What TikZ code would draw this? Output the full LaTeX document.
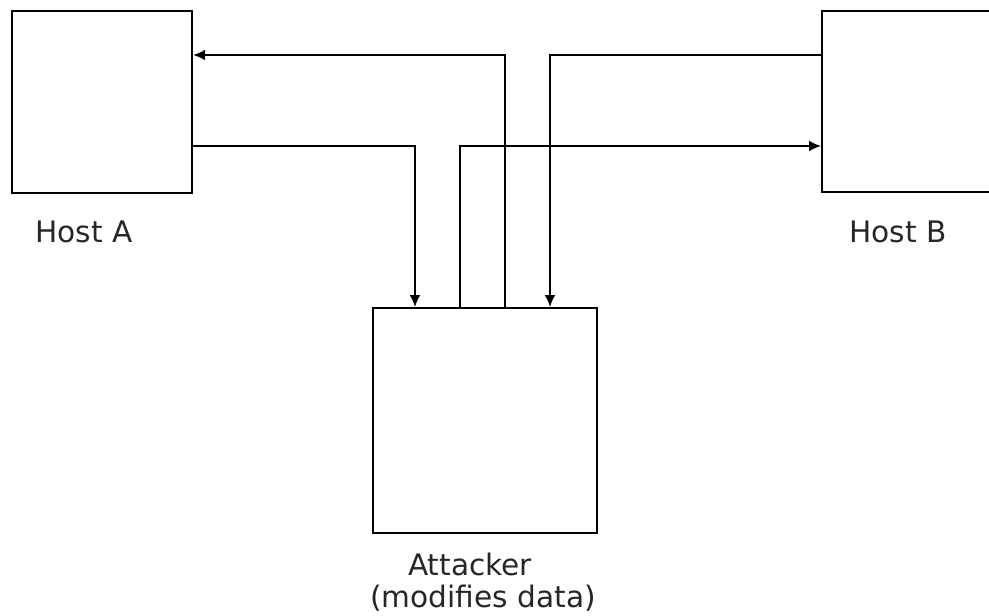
\documentclass[tikz,border=0pt]{standalone}
\usepackage{fontspec}
\setmainfont{DejaVu Sans}
\usetikzlibrary{arrows.meta}
\tikzset{
  box/.style={draw, line width=1.1pt, inner sep=0pt, anchor=north west},
  flow/.style={line width=0.9pt, -{Latex[length=6pt,width=5.5pt]}},
  lbl/.style={font=\fontsize{14.8}{17}\selectfont, text=black!85, inner sep=0pt},
}
\begin{document}
\begin{tikzpicture}[x=0.5pt, y=-0.5pt]
        \clip (0,0) rectangle (989,615);
        \node[box, minimum width=90pt, minimum height=91pt] (hostA) at (11,10) {};
        \node[box, minimum width=100pt, minimum height=90.5pt] (hostB) at (821,10) {};
        \node[box, minimum width=112pt, minimum height=112.5pt] (attacker) at (372,307) {};
        \node[lbl] (labA) at (84,232) {Host A};
        \node[lbl] (labB) at (898,232) {Host B};
        \node[lbl] (labAtt) at (470,564) {Attacker};
        \node[lbl] (labNote) at (483,598) {(modifies data)};
        % A -> attacker -> B
        \draw[flow] (hostA.east |- 0,146) -| (attacker.north -| 415,0);
        \draw[flow] (attacker.north -| 460,0) |- (hostB.west |- 0,146);
        % B -> attacker -> A
        \draw[flow] (hostB.west |- 0,55) -| (attacker.north -| 550,0);
        \draw[flow] (attacker.north -| 505,0) |- (hostA.east |- 0,55);
\end{tikzpicture}
\end{document}
